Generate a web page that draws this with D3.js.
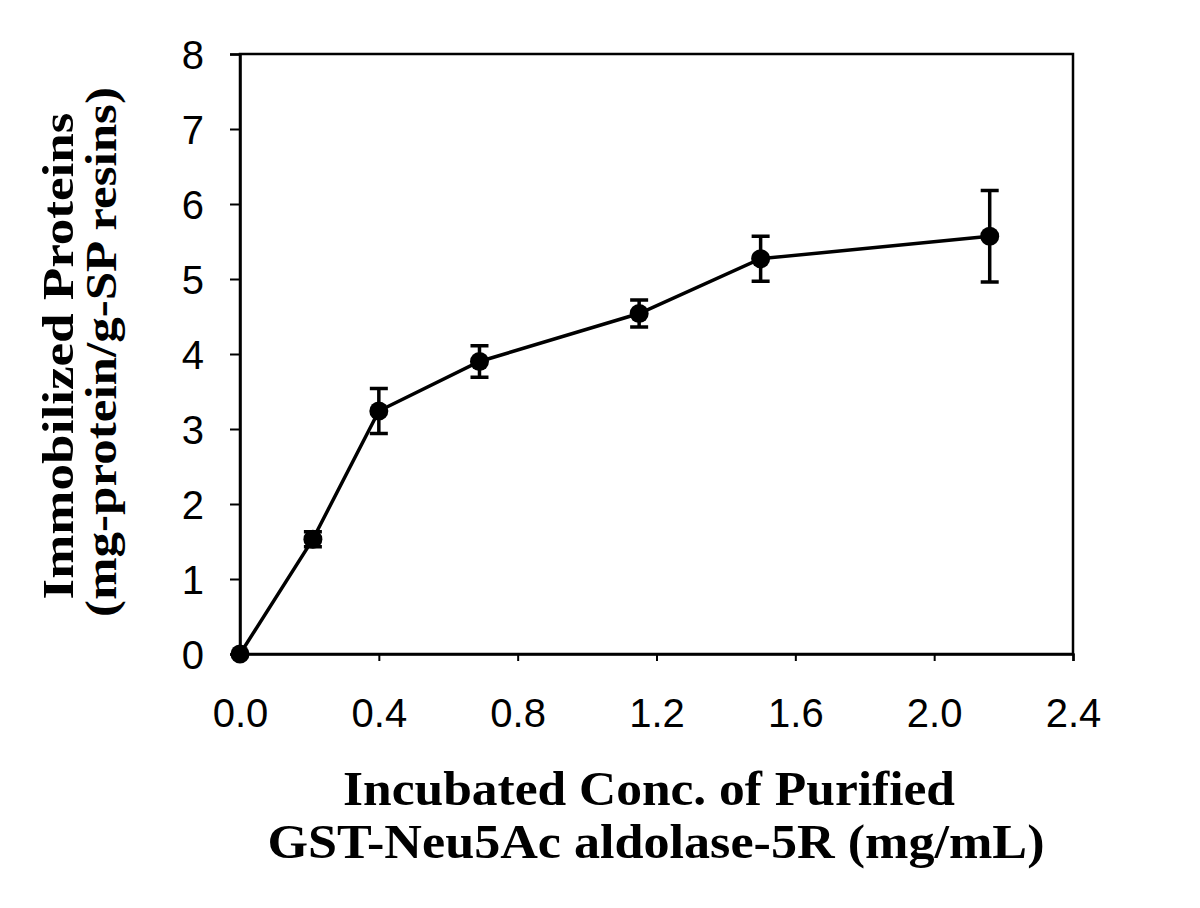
<!DOCTYPE html>
<html><head><meta charset="utf-8">
<script src="https://cdn.jsdelivr.net/npm/d3@7"></script>
<style>body{margin:0;background:#fff}</style>
</head><body>
<script>
const concentrations = [0, 0.21, 0.40, 0.69, 1.15, 1.50, 2.16];
const immobilized = [0, 1.53, 3.24, 3.90, 4.54, 5.27, 5.57];
const errors = [0, 0.10, 0.30, 0.21, 0.18, 0.30, 0.61];
const xTicks = [0, 0.4, 0.8, 1.2, 1.6, 2.0, 2.4];
const yTicks = [0, 1, 2, 3, 4, 5, 6, 7, 8];
const yTitle = ["Immobilized Proteins", "(mg-protein/g-SP resins)"];
const xTitle = ["Incubated Conc. of Purified", "GST-Neu5Ac aldolase-5R (mg/mL)"];

const W = 1200, H = 908;
const mLeft = 240, mRight = 1073, mTop = 54, mBottom = 654;
const svg = d3.select("body").append("svg").attr("width", W).attr("height", H);
const x = d3.scaleLinear().domain([0, 2.4]).range([mLeft, mRight]);
const y = d3.scaleLinear().domain([0, 8]).range([mBottom, mTop]);

const tickFont = "'Liberation Sans Narrow','Arial Narrow','Liberation Sans',Arial,sans-serif";
const titleFont = "'Liberation Serif','Times New Roman',serif";

// frame
svg.append("rect").attr("x", mLeft).attr("y", mTop).attr("width", mRight - mLeft).attr("height", mBottom - mTop)
  .attr("fill", "none").attr("stroke", "#000").attr("stroke-width", 2.5);

const xAxis = svg.append("g").attr("transform", `translate(0,${mBottom})`)
  .call(d3.axisBottom(x).tickValues(xTicks).tickSize(7).tickPadding(38).tickFormat(d3.format(".1f")));
const yAxis = svg.append("g").attr("transform", `translate(${mLeft},0)`)
  .call(d3.axisLeft(y).tickValues(yTicks).tickSize(10).tickPadding(26).tickFormat(d3.format("d")));
[xAxis, yAxis].forEach(g => {
  g.select(".domain").attr("stroke", "#000").attr("stroke-width", 2.5);
  g.selectAll(".tick line").attr("stroke", "#000").attr("stroke-width", 2);
  g.selectAll(".tick text").attr("font-family", tickFont).attr("font-size", 40).attr("fill", "#000");
});
xAxis.selectAll(".tick text").attr("dy", "0.71em");
yAxis.selectAll(".tick text").attr("dy", "0.36em");

// line
const line = d3.line().x((d, i) => x(concentrations[i])).y(d => y(d));
svg.append("path").datum(immobilized).attr("d", line).attr("fill", "none")
  .attr("stroke", "#000").attr("stroke-width", 3.5);

// error bars
const eb = svg.append("g").attr("stroke", "#000").attr("stroke-width", 3.5);
immobilized.forEach((v, i) => {
  if (!errors[i]) return;
  const cx = x(concentrations[i]);
  const y1 = y(v + errors[i]), y2 = y(v - errors[i]);
  eb.append("line").attr("x1", cx).attr("x2", cx).attr("y1", y1).attr("y2", y2);
  eb.append("line").attr("x1", cx - 9).attr("x2", cx + 9).attr("y1", y1).attr("y2", y1);
  eb.append("line").attr("x1", cx - 9).attr("x2", cx + 9).attr("y1", y2).attr("y2", y2);
});

// markers
svg.append("g").selectAll("circle").data(immobilized).join("circle")
  .attr("cx", (d, i) => x(concentrations[i])).attr("cy", d => y(d)).attr("r", 9.5).attr("fill", "#000");

// titles
const xt = svg.append("g").attr("font-family", titleFont).attr("font-weight", "bold").attr("font-size", 49).attr("text-anchor", "middle");
xt.append("text").attr("x", 649).attr("y", 805).attr("textLength", 612).attr("lengthAdjust", "spacingAndGlyphs").text(xTitle[0]);
xt.append("text").attr("x", 656).attr("y", 858).attr("textLength", 777).attr("lengthAdjust", "spacingAndGlyphs").text(xTitle[1]);

const yt = svg.append("g").attr("font-family", titleFont).attr("font-weight", "bold").attr("font-size", 44).attr("text-anchor", "middle");
yt.append("text").attr("transform", "translate(73,356) rotate(-90)").attr("textLength", 487).attr("lengthAdjust", "spacingAndGlyphs").text(yTitle[0]);
yt.append("text").attr("transform", "translate(116,352) rotate(-90)").attr("textLength", 530).attr("lengthAdjust", "spacingAndGlyphs").text(yTitle[1]);
</script>
</body></html>
